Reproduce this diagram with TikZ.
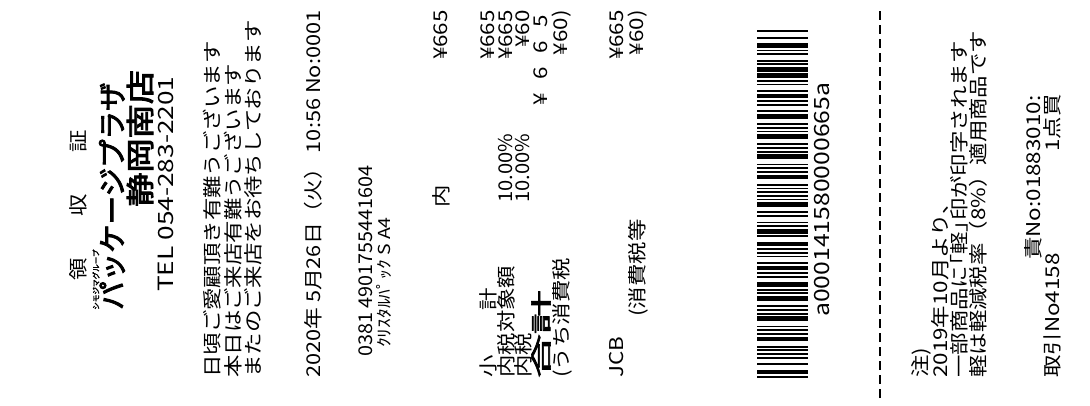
\documentclass[tikz,border=0pt]{standalone}
\usepackage{fontspec}
\setmainfont{Noto Sans CJK JP}[FakeStretch=1.18]
\newfontfamily\boldjp{Noto Sans CJK JP}[FakeBold=3]
\usetikzlibrary{positioning}

\newcommand{\sx}[2]{\scalebox{#1}[1]{#2}}
\newcommand{\dbl}[1]{\makebox[26pt][c]{#1}}

% Codabar bar/space patterns (1 = wide)
\expandafter\def\csname bc0\endcsname{0,0,0,0,0,1,1}
\expandafter\def\csname bc1\endcsname{0,0,0,0,1,1,0}
\expandafter\def\csname bc4\endcsname{0,0,1,0,0,1,0}
\expandafter\def\csname bc5\endcsname{1,0,0,0,0,1,0}
\expandafter\def\csname bc6\endcsname{0,1,0,0,0,0,1}
\expandafter\def\csname bc8\endcsname{0,1,1,0,0,0,0}
\expandafter\def\csname bcA\endcsname{0,0,1,1,0,1,0}
\def\bcnarrow{1.84}
\def\bcwide{4.6}

\begin{document}
\begin{tikzpicture}[x=1pt, y=-1pt,
    rl/.style={rotate=90, inner sep=0pt, font=\fontsize{19}{19}\selectfont},
    lft/.style={rl, anchor=west},
    rgt/.style={rl, anchor=east},
    logo/.style={lft, font=\boldjp\fontsize{28.5}{28.5}\selectfont}]
  \fill[white] (0,0) rectangle (1090,406);
  \useasboundingbox (0,0) rectangle (1090,406);

  % shop header
  \node[rl] (title) at (78,205) {領\hspace{41.5pt}収\hspace{41.5pt}証};
  \node[logo, font=\boldjp\fontsize{7.6}{7.6}\selectfont] (group) at (96,310) {シモジマグループ};
  \node[logo] (brand) at (112,310) {パッケージプラザ};
  \node[logo] (shop) at (140,207) {\sx{1.2}{静岡南店}};
  \node[lft, font=\fontsize{21}{21}\selectfont] (tel) at (166,292) {\sx{1.06}{TEL 054-283-2201}};

  % greeting
  \node[lft] (msg1) at (212,378) {日頃ご愛顧頂き有難うございます};
  \node[lft] (msg2) at (233,378) {本日はご来店有難うございます};
  \node[lft] (msg3) at (253,378) {またのご来店をお待ちしております};
  \node[lft] (date) at (313,378) {\sx{0.97}{2020年 5月26日（火） 10:56 No:0001}};

  % item
  \node[lft] (jan) at (366,357) {\sx{0.885}{0381 4901755441604}};
  \node[lft, font=\fontsize{16.5}{16.5}\selectfont] (item) at (384,348) {ｸﾘｽﾀﾙﾊﾟｯｸ S A4};
  \node[rl] (incl) at (441,196) {内};
  \node[rgt] (itemp) at (441,10) {¥665};

  % totals
  \node[lft] (sub) at (488,378) {小　　計};
  \node[rgt] (subp) at (488,10) {¥665};
  \node[lft] (base) at (506,378) {内税対象額};
  \node[lft] (baser) at (506,203) {\sx{0.9}{10.00\%}};
  \node[rgt] (basep) at (506,10) {¥665};
  \node[lft] (tax) at (523,378) {内税};
  \node[lft] (taxr) at (523,203) {\sx{0.9}{10.00\%}};
  \node[rgt] (taxp) at (523,10) {¥60};
  \node[lft, font=\boldjp\fontsize{19}{19}\selectfont] (total) at (541,378) {\scalebox{2.3}[1.1]{合計}};
  \node[rgt] (totalp) at (541,8) {\dbl{¥}\dbl{6}\dbl{6}\dbl{5}};
  \node[lft] (ttax) at (562,378) {(うち消費税};
  \node[rgt] (ttaxp) at (562,10) {¥60)};

  % payment
  \node[lft] (pay) at (617,378) {JCB};
  \node[rgt] (payp) at (617,10) {¥665};
  \node[lft] (ctax) at (638,317) {(消費税等};
  \node[rgt] (ctaxp) at (638,10) {¥60)};

  % barcode
  \xdef\bpos{378}
  \foreach \bcchar in {A,0,0,0,1,4,1,5,8,0,0,0,0,6,6,5,A} {
    \edef\pat{\csname bc\bcchar\endcsname}
    \foreach \e [count=\i] in \pat {
      \ifnum\e=1 \let\bw\bcwide \else \let\bw\bcnarrow \fi
      \ifodd\i\relax
        \fill (757,\bpos) rectangle (808,\bpos-\bw);
      \fi
      \pgfmathsetmacro\nextpos{\bpos-\bw}
      \xdef\bpos{\nextpos}
    }
    \pgfmathsetmacro\nextpos{\bpos-\bcnarrow}
    \xdef\bpos{\nextpos}
  }
  \node[lft, font=\fontsize{21}{21}\selectfont] (code) at (822,317) {a000141580000665a};

  % cut line
  \coordinate (cutA) at (880,398);
  \coordinate (cutB) at (880,8);
  \draw[line width=2.2pt, dash pattern=on 9pt off 5pt] (cutA) -- (cutB);

  % notes
  \node[lft] (note0) at (921,378) {注)};
  \node[lft] (note1) at (940,378) {2019年10月より、};
  \node[lft] (note2) at (959,378) {一部商品に｢軽｣印が印字されます};
  \node[lft] (note3) at (978,378) {軽は軽減税率（8\%）適用商品です};
  \node[lft] (resp) at (1033,260) {責No:01883010:};
  \node[lft] (trans) at (1052,378) {取引No4158};
  \node[lft] (qty) at (1052,152) {1点買};
\end{tikzpicture}
\end{document}
